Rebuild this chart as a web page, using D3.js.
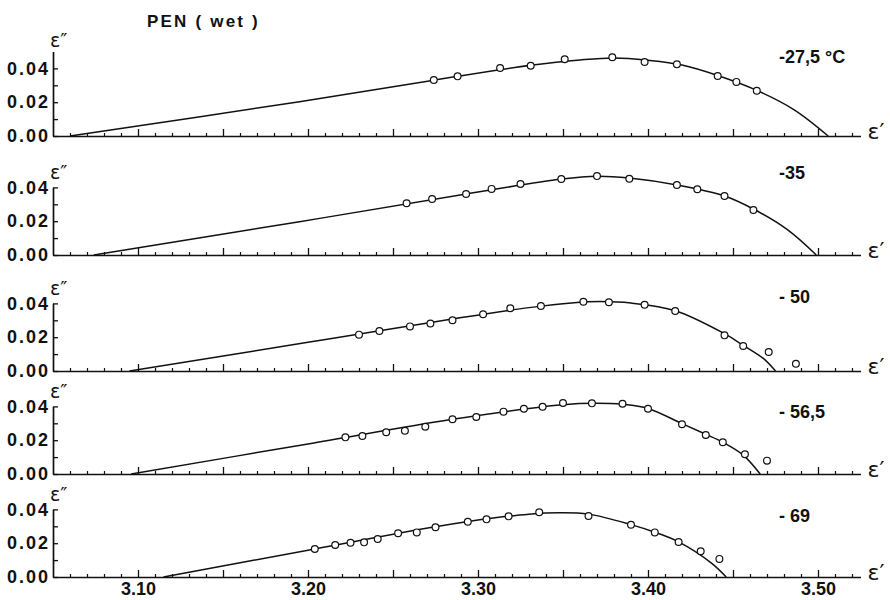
<!DOCTYPE html>
<html>
<head>
<meta charset="utf-8">
<script src="https://cdn.jsdelivr.net/npm/d3@7"></script>
<style>
  body { margin: 0; background: #fff; }
  text { font-family: "Liberation Sans", Arial, sans-serif; fill: #111; }
  .tick text { font-family: "Liberation Sans", Arial, sans-serif; font-weight: bold; font-size: 18px; fill: #111; }
  .greek { font-family: "DejaVu Sans", sans-serif; }
</style>
</head>
<body>
<svg id="chart" width="890" height="600"></svg>
<script>
// ---- data: Cole-Cole plots of PEN (wet), one panel per temperature ----
const chartTitle = "PEN ( wet )";
const panelTemps = ["-27,5 °C", "-35", "- 50", "- 56,5", "- 69"];

// measured points [eps', eps'']
const obs275 = [[3.274,0.0331],[3.288,0.0353],[3.313,0.0402],[3.331,0.0416],[3.351,0.0454],[3.379,0.0466],
                [3.398,0.0438],[3.417,0.0424],[3.441,0.0355],[3.452,0.0320],[3.464,0.0268]];
const obs35  = [[3.258,0.0306],[3.273,0.0331],[3.293,0.0361],[3.308,0.0391],[3.325,0.0420],[3.349,0.0450],
                [3.370,0.0467],[3.389,0.0451],[3.417,0.0414],[3.429,0.0389],[3.445,0.0349],[3.462,0.0266]];
const obs50  = [[3.230,0.0215],[3.242,0.0237],[3.260,0.0264],[3.272,0.0281],[3.285,0.0300],[3.303,0.0336],
                [3.319,0.0371],[3.337,0.0385],[3.362,0.0410],[3.377,0.0407],[3.398,0.0392],[3.416,0.0355],
                [3.445,0.0211],[3.456,0.0148],[3.471,0.0112],[3.487,0.0043]];
const obs565 = [[3.222,0.0217],[3.232,0.0225],[3.246,0.0247],[3.257,0.0256],[3.269,0.0280],[3.285,0.0324],
                [3.299,0.0337],[3.315,0.0369],[3.327,0.0386],[3.338,0.0398],[3.350,0.0420],[3.367,0.0418],
                [3.385,0.0416],[3.400,0.0386],[3.420,0.0294],[3.434,0.0231],[3.444,0.0188],[3.457,0.0117],
                [3.470,0.0079]];
const obs69  = [[3.204,0.0166],[3.216,0.0189],[3.225,0.0203],[3.233,0.0205],[3.241,0.0225],[3.253,0.0259],
                [3.264,0.0264],[3.275,0.0294],[3.294,0.0327],[3.305,0.0341],[3.318,0.0359],[3.336,0.0383],
                [3.365,0.0361],[3.390,0.0309],[3.404,0.0264],[3.418,0.0207],[3.431,0.0152],[3.442,0.0107]];

// fitted arcs, sampled along the drawn curve [eps', eps'']
const fit275 = [[3.060,0],[3.195,0.0203],[3.274,0.0330],[3.331,0.0418],[3.360,0.0450],[3.380,0.0462],
                [3.400,0.0448],[3.420,0.0420],[3.441,0.0358],[3.464,0.0270],[3.486,0.0155],[3.506,0]];
const fit35  = [[3.074,0],[3.195,0.0197],[3.293,0.0361],[3.349,0.0449],[3.370,0.0466],[3.389,0.0455],
                [3.417,0.0414],[3.445,0.0349],[3.462,0.0272],[3.482,0.0150],[3.499,0]];
const fit50  = [[3.095,0],[3.200,0.0170],[3.284,0.0306],[3.330,0.0375],[3.355,0.0403],[3.372,0.0411],
                [3.390,0.0402],[3.416,0.0357],[3.445,0.0221],[3.456,0.0152],[3.468,0.0073],[3.475,0]];
const fit565 = [[3.096,0],[3.200,0.0178],[3.284,0.0322],[3.330,0.0388],[3.350,0.0410],[3.368,0.0418],
                [3.385,0.0412],[3.400,0.0388],[3.420,0.0298],[3.434,0.0235],[3.444,0.0188],[3.456,0.0112],[3.466,0]];
const fit69  = [[3.115,0],[3.204,0.0166],[3.275,0.0297],[3.310,0.0350],[3.330,0.0372],[3.348,0.0380],
                [3.365,0.0372],[3.390,0.0310],[3.404,0.0265],[3.418,0.0208],[3.4375,0.0081],[3.446,0]];

const observed = [obs275, obs35, obs50, obs565, obs69];
const fitted   = [fit275, fit35, fit50, fit565, fit69];

// axis ticks
const xDomain = [3.05, 3.525];
const xMinorTicks = [3.06,3.07,3.08,3.09,3.11,3.12,3.13,3.14,3.16,3.17,3.18,3.19,3.21,3.22,3.23,3.24,
                     3.26,3.27,3.28,3.29,3.31,3.32,3.33,3.34,3.36,3.37,3.38,3.39,3.41,3.42,3.43,3.44,
                     3.46,3.47,3.48,3.49,3.51,3.52];
const xMajorTicks = [3.10,3.15,3.20,3.25,3.30,3.35,3.40,3.45,3.50];
const xLabelValues = [3.10,3.20,3.30,3.40,3.50];
const xLabelTexts  = ["3.10","3.20","3.30","3.40","3.50"];
const yTickValues  = [0,0.01,0.02,0.03,0.04];
const yLabelValues = [0,0.02,0.04];
const yLabelTexts  = ["0.00","0.02","0.04"];
const yTops        = [0.05,0.04,0.04,0.04,0.04];

// ---- layout ----
const panelBase  = [136, 255, 371, 474, 577];   // pixel row of each eps'' = 0 line
const labelRise  = [73, 76, 68, 56, 55];        // temperature label height above the base line
const axisLeftX  = 53, axisRightX = 860.5;
const pxPerUnitY = 1690;

const svg = d3.select("#chart");

const x = d3.scaleLinear().domain(xDomain).range([axisLeftX, axisRightX]);

const line = d3.line().curve(d3.curveCatmullRom.alpha(0.5));

svg.append("text")
  .attr("x", 147).attr("y", 27)
  .attr("font-size", 17).attr("font-weight", "bold")
  .attr("letter-spacing", "2.2px")
  .style("white-space", "pre")
  .text(chartTitle);

panelTemps.forEach((temp, i) => {
  const base = panelBase[i];
  const top = yTops[i];
  const y = d3.scaleLinear().domain([0, top]).range([base, base - top * pxPerUnitY]);
  const g = svg.append("g");

  // x axis: minor and major inward ticks
  const xMinor = g.append("g").attr("transform", `translate(0,${base})`)
    .call(d3.axisBottom(x).tickValues(xMinorTicks).tickSizeInner(-3).tickSizeOuter(0).tickFormat(""));
  xMinor.select(".domain").attr("stroke-width", 1.7).attr("stroke", "#111");
  xMinor.selectAll(".tick line").attr("stroke-width", 1.2).attr("stroke", "#111");

  const xMajor = g.append("g").attr("transform", `translate(0,${base})`)
    .call(d3.axisBottom(x).tickValues(xMajorTicks).tickSizeInner(-7).tickSizeOuter(0).tickFormat(""));
  xMajor.select(".domain").remove();
  xMajor.selectAll(".tick line").attr("stroke-width", 1.3).attr("stroke", "#111");

  if (i === panelTemps.length - 1) {
    const xLab = g.append("g").attr("transform", `translate(0,${base})`)
      .call(d3.axisBottom(x).tickValues(xLabelValues).tickSize(0).tickPadding(5)
        .tickFormat(d => xLabelTexts[xLabelValues.indexOf(d)]));
    xLab.select(".domain").remove();
  }

  // y axis with inward ticks
  const yAx = g.append("g").attr("transform", `translate(${axisLeftX},0)`)
    .call(d3.axisLeft(y).tickValues(yTickValues).tickSizeInner(-5).tickSizeOuter(0).tickPadding(3)
      .tickFormat(d => { const k = yLabelValues.findIndex(v => Math.abs(v - d) < 1e-9); return k < 0 ? "" : yLabelTexts[k]; }));
  yAx.select(".domain").attr("stroke-width", 1.7).attr("stroke", "#111");
  yAx.selectAll(".tick line").attr("stroke-width", 1.3).attr("stroke", "#111");
  yAx.selectAll(".tick text").attr("letter-spacing", "2px");

  // axis names
  g.append("text").attr("class", "greek")
    .attr("x", axisLeftX - 3).attr("y", y(top) - (i === 0 ? 5 : 8))
    .attr("font-size", 19).text("ε″");
  g.append("text").attr("class", "greek")
    .attr("x", axisRightX + 7).attr("y", base + 3)
    .attr("font-size", 22).text("ε′");

  // temperature
  g.append("text")
    .attr("x", 779).attr("y", base - labelRise[i])
    .attr("font-size", 18).attr("font-weight", "bold")
    .style("white-space", "pre")
    .text(temp);

  // fitted arc
  g.append("path")
    .attr("d", line(fitted[i].map(d => [x(d[0]), y(d[1])])))
    .attr("fill", "none").attr("stroke", "#111").attr("stroke-width", 1.5);

  // measured points
  g.selectAll("circle.obs").data(observed[i]).join("circle")
    .attr("class", "obs")
    .attr("cx", d => x(d[0])).attr("cy", d => y(d[1]))
    .attr("r", 3.4)
    .attr("fill", "#fff").attr("stroke", "#111").attr("stroke-width", 1.2);
});
</script>
</body>
</html>
